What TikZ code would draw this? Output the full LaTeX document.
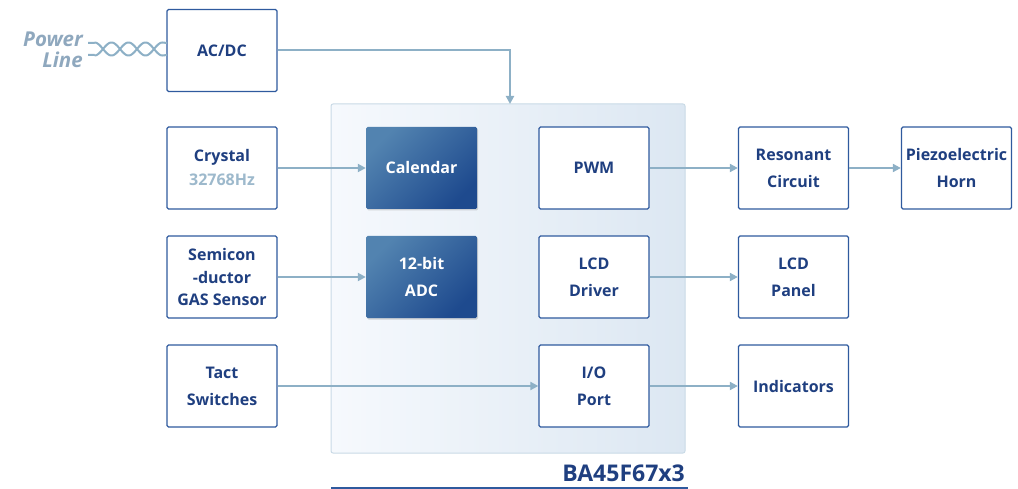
\documentclass[tikz,border=0pt]{standalone}
\usepackage{fontspec}
\setmainfont{Open Sans}
\usetikzlibrary{arrows.meta,shadows}
\definecolor{bxline}{HTML}{2F5A9E}
\definecolor{bxtext}{HTML}{1F3F80}
\definecolor{arr}{HTML}{8DB0C6}
\definecolor{chipA}{HTML}{F6F9FD}
\definecolor{chipB}{HTML}{DCE7F2}
\definecolor{chipline}{HTML}{C9DAE6}
\definecolor{darkA}{HTML}{5283B0}
\definecolor{darkB}{HTML}{1E4A8E}
\definecolor{pl}{HTML}{8FA8BE}
\definecolor{hz}{HTML}{9DB9CC}
\begin{document}
\begin{tikzpicture}[x=1pt,y=-1pt,
  blk/.style={draw=bxline,line width=1.3pt,rounded corners=1.5pt,fill=white,minimum width=110pt,minimum height=82pt,align=center,text=bxtext,font=\fontsize{16}{27}\selectfont\bfseries},
  dark/.style={rounded corners=1.5pt,minimum width=111pt,minimum height=82pt,align=center,text=white,font=\fontsize{16}{27}\selectfont\bfseries,left color=darkA,right color=darkB,shading angle=45,drop shadow={opacity=0.3,shadow xshift=1pt,shadow yshift=-1.5pt}},
  con/.style={draw=arr,line width=2pt,-{Triangle[length=8pt,width=8pt]}},
  wire/.style={draw=arr,line width=2pt}]
\useasboundingbox (0,0) rectangle (1018,489);
% chip
\shade[shading angle=45,left color=chipA,right color=chipB,rounded corners=2pt] (331,104) rectangle (685,453);
\draw[draw=chipline,line width=1pt,rounded corners=2pt] (331,104) rectangle (685,453);
\coordinate (chiptop) at (510,104);
\node[anchor=base east,text=bxtext,font=\fontsize{23}{23}\selectfont\bfseries,inner sep=0pt] (chipname) at (685,481) {BA45F67x3};
\draw[bxline,line width=1.2pt] (331,488) -- (688,488);
% left blocks
\node[blk] (acdc) at (222,50.5) {AC/DC};
\node[blk] (crystal) at (222,168) {Crystal\\[-3pt]{\color{hz}\fontsize{16}{18}\selectfont 32768Hz}};
\node[blk,font=\fontsize{16}{22.5}\selectfont\bfseries] (gas) at (222,277) {Semicon\\-ductor\\GAS Sensor};
\node[blk] (tact) at (222,386) {Tact\\Switches};
% inner
\node[dark] (cal) at (421.5,168) {Calendar};
\node[dark] (adc) at (421.5,277) {12-bit\\ADC};
\node[blk] (pwm) at (594,168) {PWM};
\node[blk] (lcdd) at (594,277) {LCD\\Driver};
\node[blk] (io) at (594,386) {I/O\\Port};
% right
\node[blk] (res) at (793.5,168) {Resonant\\Circuit};
\node[blk] (horn) at (956.5,168) {Piezoelectric\\Horn};
\node[blk] (lcdp) at (793.5,277) {LCD\\Panel};
\node[blk] (ind) at (793.5,386) {Indicators};
% power line
\node[text=pl,font=\fontsize{20.5}{21}\selectfont\bfseries\itshape,align=right,anchor=east,inner sep=0pt] (pw) at (83,50) {Power\\Line};
\coordinate (tw1) at (88,43);
\coordinate (tw2) at (88,55);
\coordinate (tw3) at (167,43);
\coordinate (tw4) at (167,55);
\draw[wire] (tw1) -- (94.5,43) plot[domain=94.5:162.5,samples=70,smooth] ({\x},{49-6.5*cos(((\x-94.5)/34)*360)}) -- (tw3);
\draw[wire] (tw2) -- (94.5,55) plot[domain=94.5:162.5,samples=70,smooth] ({\x},{49+6.5*cos(((\x-94.5)/34)*360)}) -- (tw4);
% connectors
\draw[con] (acdc.east) -| (chiptop);
\draw[con] (crystal.east) -- (cal.west);
\draw[con] (gas.east) -- (adc.west);
\draw[con] (tact.east) -- (io.west);
\draw[con] (pwm.east) -- (res.west);
\draw[con] (res.east) -- (horn.west);
\draw[con] (lcdd.east) -- (lcdp.west);
\draw[con] (io.east) -- (ind.west);
\end{tikzpicture}
\end{document}
